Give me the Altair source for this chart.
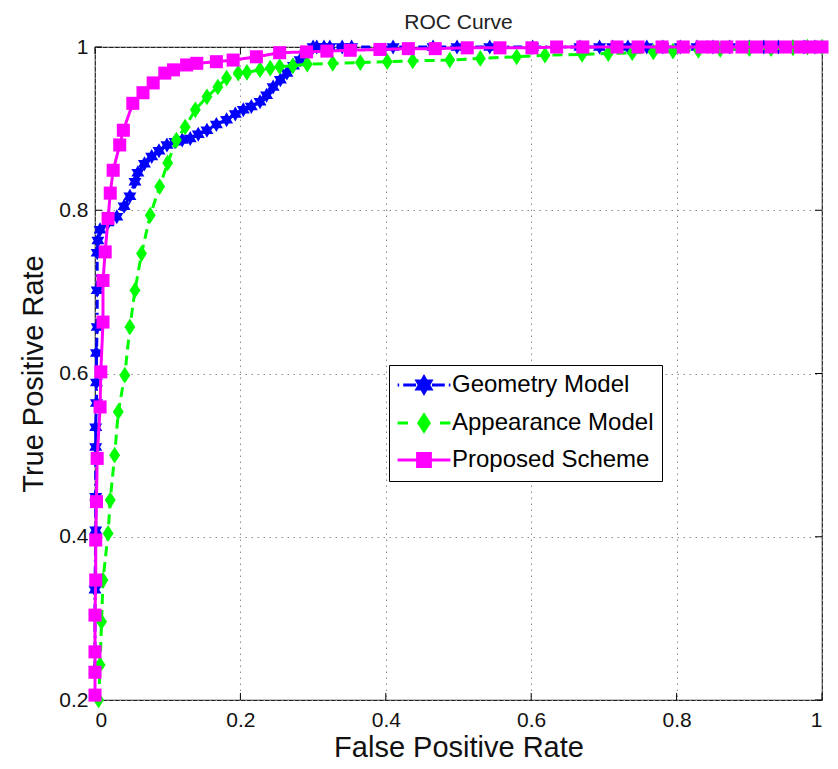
import altair as alt
import pandas as pd

series_names = ["Geometry Model", "Appearance Model", "Proposed Scheme"]
series_colors = ["#0000ff", "#00ff00", "#ff00ff"]

geo_fpr = [0, 0, 0, 0.001, 0.001, 0.001, 0.001, 0.002, 0.002, 0.002, 0.003, 0.003, 0.003, 0.004,
           0.007, 0.018, 0.03, 0.04, 0.048, 0.055, 0.059, 0.068, 0.078, 0.088, 0.099, 0.11, 0.12,
           0.131, 0.142, 0.154, 0.167, 0.181, 0.193, 0.204, 0.215, 0.227, 0.236, 0.245, 0.255,
           0.264, 0.273, 0.282, 0.29, 0.30, 0.305, 0.315, 0.323, 0.34, 0.353, 0.41, 0.465, 0.498,
           0.543, 0.602, 0.667, 0.694, 0.712, 0.733, 0.759, 0.781, 0.805, 0.828, 0.85, 0.873, 0.9,
           0.92, 0.94, 0.96, 0.975, 0.99, 1.0]
geo_tpr = [0.237, 0.302, 0.335, 0.408, 0.449, 0.51, 0.534, 0.564, 0.589, 0.625, 0.657, 0.702, 0.748,
           0.763, 0.776, 0.785, 0.792, 0.805, 0.817, 0.835, 0.846, 0.857, 0.866, 0.873, 0.88, 0.884,
           0.886, 0.888, 0.893, 0.898, 0.905, 0.911, 0.918, 0.923, 0.927, 0.933, 0.941, 0.951, 0.96,
           0.968, 0.977, 0.984, 0.992, 1, 1, 1, 1, 1, 1, 1, 1, 1, 1, 1, 1, 1, 1, 1, 1, 1, 1, 1, 1, 1,
           1, 1, 1, 1, 1, 1, 1]

app_fpr = [0.005, 0.007, 0.009, 0.011, 0.018, 0.021, 0.027, 0.032, 0.041, 0.048, 0.055, 0.064, 0.076,
           0.089, 0.1, 0.112, 0.124, 0.138, 0.154, 0.169, 0.181, 0.197, 0.209, 0.227, 0.241, 0.254,
           0.272, 0.292, 0.327, 0.365, 0.402, 0.437, 0.488, 0.53, 0.58, 0.619, 0.67, 0.706, 0.739,
           0.768, 0.795, 0.83, 0.86, 0.9, 0.93, 0.96, 0.98, 1.0]
app_tpr = [0.2, 0.243, 0.296, 0.347, 0.404, 0.445, 0.50, 0.553, 0.598, 0.657, 0.702, 0.747, 0.794,
           0.829, 0.858, 0.886, 0.902, 0.923, 0.939, 0.951, 0.962, 0.968, 0.969, 0.972, 0.974, 0.976,
           0.977, 0.979, 0.98, 0.981, 0.982, 0.983, 0.984, 0.986, 0.988, 0.99, 0.991, 0.992, 0.993,
           0.994, 0.995, 0.996, 0.997, 0.998, 0.998, 0.999, 1.0, 1.0]

pro_fpr = [0, 0, 0, 0, 0.001, 0.001, 0.002, 0.003, 0.007, 0.008, 0.011, 0.011, 0.014, 0.018, 0.021,
           0.025, 0.034, 0.039, 0.052, 0.066, 0.08, 0.096, 0.108, 0.126, 0.14, 0.167, 0.19, 0.222,
           0.254, 0.291, 0.319, 0.351, 0.392, 0.431, 0.468, 0.512, 0.557, 0.601, 0.635, 0.671, 0.718,
           0.747, 0.78, 0.809, 0.835, 0.85, 0.869, 0.89, 0.91, 0.93, 0.95, 0.97, 0.985, 1.0]
pro_tpr = [0.206, 0.234, 0.259, 0.304, 0.347, 0.396, 0.443, 0.496, 0.559, 0.602, 0.663, 0.714, 0.749,
           0.79, 0.821, 0.849, 0.88, 0.898, 0.931, 0.944, 0.956, 0.968, 0.972, 0.978, 0.98, 0.982,
           0.984, 0.988, 0.993, 0.994, 0.995, 0.996, 0.997, 0.998, 0.998, 0.999, 0.999, 0.999, 1, 1,
           1, 1, 1, 1, 1, 1, 1, 1, 1, 1, 1, 1, 1, 1]

x_ticks = [0, 0.2, 0.4, 0.6, 0.8, 1]
y_ticks = [0.2, 0.4, 0.6, 0.8, 1]

STAR = "M0,-1L0.866,0.5L-0.866,0.5Z M0,1L-0.866,-0.5L0.866,-0.5Z"
DIAMOND = "M0,-1L0.65,0L0,1L-0.65,0Z"
SQUARE = "M-1,-1L1,-1L1,1L-1,1Z"

LEG_GEO = "M-3.3,0L-3.1,0M-2.6,0L-1.0,0M1.0,0L2.6,0M3.1,0L3.3,0 " + STAR
LEG_APP = "M-3.3,0L-2.0,0M2.0,0L3.3,0 " + DIAMOND
LEG_PRO = "M-3.3,0L3.3,0 " + "M-0.8,-0.8L0.8,-0.8L0.8,0.8L-0.8,0.8Z"

frames = []
for name, xs, ys in [(series_names[0], geo_fpr, geo_tpr),
                     (series_names[1], app_fpr, app_tpr),
                     (series_names[2], pro_fpr, pro_tpr)]:
    frames.append(pd.DataFrame({"series": name, "fpr": xs, "tpr": ys, "idx": list(range(len(xs)))}))

color_scale = alt.Scale(domain=series_names, range=series_colors)

shape_expr = ("datum.value === 'Geometry Model' ? '%s' : datum.value === 'Appearance Model' ? '%s' : '%s'"
              % (LEG_GEO, LEG_APP, LEG_PRO))
col_expr = ("datum.value === 'Geometry Model' ? '#0000ff' : datum.value === 'Appearance Model' ? '#00ff00' : '#ff00ff'")

legend = alt.Legend(
    title=None, orient="none", legendX=294, legendY=318,
    strokeColor="black", fillColor="white", padding=8,
    labelFont="Liberation Sans", labelFontSize=24, labelColor="black", labelLimit=400,
    symbolSize=256, symbolOffset=15, labelOffset=16, rowPadding=10,
    symbolType={"expr": shape_expr},
    symbolStrokeColor={"expr": col_expr},
    symbolFillColor={"expr": col_expr},
    symbolStrokeWidth=3, symbolOpacity=1,
)

x_enc = alt.X("fpr:Q", scale=alt.Scale(domain=[0, 1], nice=False, zero=False),
              axis=alt.Axis(title="False Positive Rate", values=x_ticks, format="~g"))
y_enc = alt.Y("tpr:Q", scale=alt.Scale(domain=[0.2, 1], nice=False, zero=False),
              axis=alt.Axis(title="True Positive Rate", values=y_ticks, format="~g"))

specs = [
    (frames[0], series_colors[0], [9, 4, 2, 4], STAR, 225),
    (frames[1], series_colors[1], [10, 6], DIAMOND, 280),
    (frames[2], series_colors[2], [1, 0], SQUARE, 170),
]

W, H = 727, 653
TL = 7
xt = pd.DataFrame({"fpr": x_ticks})
yt = pd.DataFrame({"tpr": y_ticks})
tick_layers = [
    alt.Chart(xt).mark_rule(color="black", strokeWidth=1).encode(x=x_enc, y=alt.value(H), y2=alt.value(H - TL)),
    alt.Chart(xt).mark_rule(color="black", strokeWidth=1).encode(x=x_enc, y=alt.value(0), y2=alt.value(TL)),
    alt.Chart(yt).mark_rule(color="black", strokeWidth=1).encode(y=y_enc, x=alt.value(0), x2=alt.value(TL)),
    alt.Chart(yt).mark_rule(color="black", strokeWidth=1).encode(y=y_enc, x=alt.value(W), x2=alt.value(W - TL)),
]

layers = list(tick_layers)
for df, col, dash, shape, size in specs:
    line = alt.Chart(df).mark_line(color=col, strokeWidth=3, strokeDash=dash, clip=False).encode(
        x=x_enc, y=y_enc, order="idx:Q")
    pts = alt.Chart(df).mark_point(shape=shape, filled=True, size=size, opacity=1, clip=False).encode(
        x=x_enc, y=y_enc,
        color=alt.Color("series:N", scale=color_scale, legend=legend))
    layers += [line, pts]

chart = alt.layer(*layers).properties(
    width=W, height=H,
    title=alt.Title("ROC Curve", fontSize=21, font="Liberation Sans", fontWeight="normal",
                    color="#222222", anchor="middle", offset=3, frame="group"),
    autosize=alt.AutoSizeParams(type="none"),
    padding={"left": 87, "top": 39, "right": 8, "bottom": 61},
).configure_view(stroke="#222222", strokeWidth=1.2).configure_axis(
    domain=False, ticks=False,
    labelFont="Liberation Sans", labelFontSize=21, labelColor="#111111",
    titleFont="Liberation Sans", titleFontSize=29, titleFontWeight="normal", titleColor="#111111",
    grid=True, gridColor="#8c8c8c", gridDash=[1.5, 4.5], gridWidth=1, gridOpacity=1,
).configure_axisX(titlePadding=3, labelPadding=9).configure_axisY(titlePadding=10, labelPadding=7)

chart.save("out.html", embed_options={"renderer": "svg", "actions": False})
